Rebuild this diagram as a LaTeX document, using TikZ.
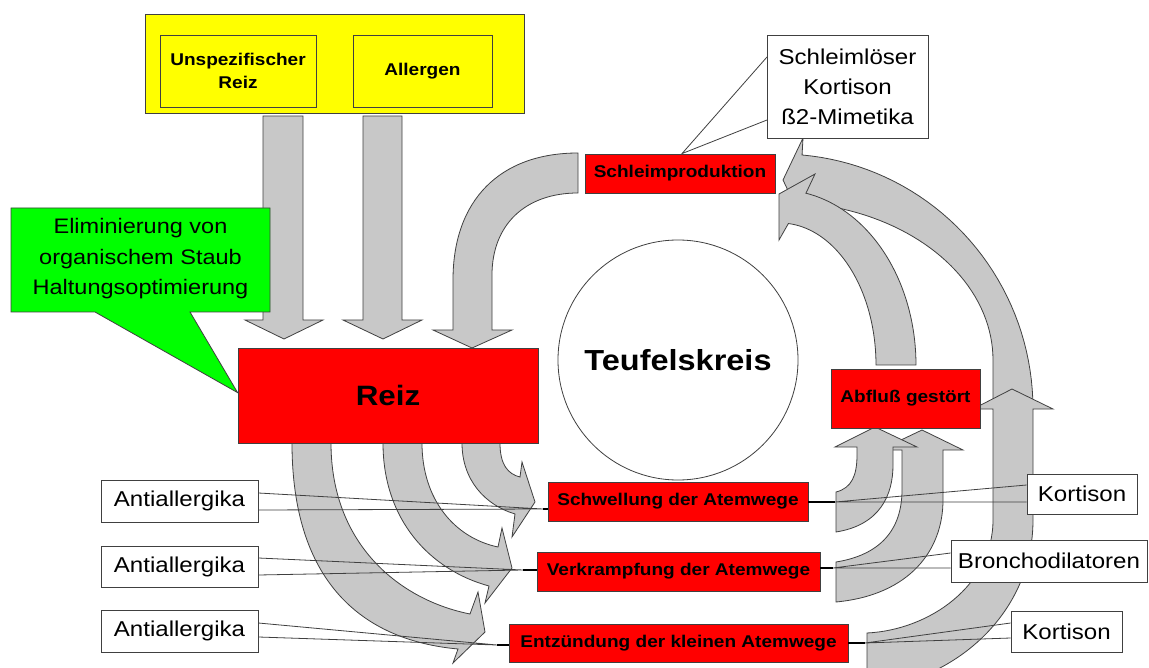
\documentclass[tikz,border=0pt]{standalone}
\usepackage{fontspec}
\setmainfont{Liberation Sans}[FakeStretch=1.12]
\usetikzlibrary{calc}
\definecolor{rred}{RGB}{255,0,0}
\definecolor{yel}{RGB}{255,255,0}
\definecolor{ggreen}{RGB}{0,255,0}
\definecolor{agray}{RGB}{200,200,200}
\definecolor{bline}{RGB}{64,64,64}
\begin{document}
\begin{tikzpicture}[x=1pt,y=-1pt,
  garrow/.style={fill=agray, draw=bline, line width=0.8pt, line join=miter},
  box/.style={draw=bline, line width=0.8pt, inner sep=0pt, align=center},
  redbox/.style={box, fill=rred, font=\fontsize{17}{20}\selectfont\bfseries},
  wbox/.style={box, fill=white, font=\fontsize{21.5}{30}\selectfont},
  ybox/.style={box, fill=yel, font=\fontsize{17}{23}\selectfont\bfseries},
  cline/.style={draw=bline, line width=0.8pt},
  stub/.style={draw=black, line width=1.5pt}
]
\useasboundingbox (0,0) rectangle (1149,668);
\fill[white] (0,0) rectangle (1149,668);
\clip (0,0) rectangle (1149,668);

% central circle
\node[circle, draw=bline, line width=0.8pt, fill=white, minimum size=240pt, inner sep=0pt,
      font=\fontsize{29}{32}\selectfont\bfseries] (kreis) at (678,360) {Teufelskreis};

% straight arrows from the stimuli
\path[garrow] (263,116) -- (303,116) -- (303,320) -- (323,320) -- (284,339) -- (245,320) -- (263,320) -- cycle;
\path[garrow] (363,116) -- (402,116) -- (402,320) -- (422,320) -- (383,339) -- (343,320) -- (363,320) -- cycle;

% curved arrow Schleimproduktion -> Reiz
\path[garrow] (578,153) .. controls (500,153) and (453,200) .. (453,280) -- (453,330) -- (433,330) -- (472,348)
  -- (512,330) -- (492,330) -- (492,275) .. controls (492,225) and (525,193) .. (578,193) -- cycle;

% curved arrows Reiz -> three reactions
\path[garrow] (292,443) -- (331,443) .. controls (331,545) and (400,600) .. (470,614) -- (478,592) -- (485,632)
  -- (453,663) -- (458,649) .. controls (360,640) and (292,580) .. (292,443) -- cycle;
\path[garrow] (383,443) -- (422,443) .. controls (422,500) and (455,538) .. (498,547) -- (502,528) -- (512,568)
  -- (485,603) -- (489,586) .. controls (430,570) and (383,520) .. (383,443) -- cycle;
\path[garrow] (462,443) -- (500,443) .. controls (500,465) and (508,474) .. (520,477) -- (522,462) -- (535,502)
  -- (512,537) -- (515,514) .. controls (485,505) and (462,480) .. (462,443) -- cycle;

% big outer arc -> Schleimproduktion
\path[garrow] (993,409) -- (1033,409)
  -- plot[domain=0:85, samples=40, variable=\t] ({780+253*cos(\t)},{409-255*sin(\t)})
  -- (803,138) -- (783,180) -- (803,222)
  -- plot[domain=83.8:0, samples=40, variable=\t] ({780+213*cos(\t)},{360-158*sin(\t)})
  -- cycle;

% Entzuendung -> up arrow
\path[garrow] (867,690) -- (867,633) .. controls (930,630) and (993,585) .. (993,520) -- (993,409) -- (973,409)
  -- (1012,389) -- (1053,409) -- (1033,409) -- (1033,520) .. controls (1033,610) and (960,680) .. (867,690) -- cycle;

% inner arc Abfluss -> Schleimproduktion
\path[garrow] (876,365) -- (916,365)
  -- plot[domain=0:79, samples=40, variable=\t] ({780+136*cos(\t)},{365-175*sin(\t)})
  -- (815,174) -- (779,194) -- (779,240)
  -- plot[domain=85:0, samples=40, variable=\t] ({780+96*cos(\t)},{365-142*sin(\t)})
  -- cycle;

% Verkrampfung -> Abfluss
\path[garrow] (836,562) .. controls (880,555) and (902,530) .. (902,490) -- (902,450) -- (880,450) -- (922,430)
  -- (963,450) -- (943,450) -- (943,500) .. controls (943,550) and (910,595) .. (836,602) -- cycle;
% Schwellung -> Abfluss
\path[garrow] (836,492) .. controls (852,488) and (857,475) .. (857,455) -- (857,447) -- (835,447) -- (875,427)
  -- (917,447) -- (893,447) -- (893,465) .. controls (893,495) and (880,525) .. (836,532) -- cycle;

% stimuli
\node[box, fill=yel, minimum width=379pt, minimum height=99pt] (stimuli) at (334.5,63.5) {};
\node[ybox, minimum width=156pt, minimum height=72pt] (unsp) at (238,71) {Unspezifischer\\Reiz};
\node[ybox, minimum width=139pt, minimum height=72pt] (allergen) at (422.5,71) {Allergen};

% Reiz
\node[box, fill=rred, minimum width=300pt, minimum height=95pt,
      font=\fontsize{28}{30}\selectfont\bfseries] (reiz) at (388,395.5) {Reiz};

% green callout
\path[draw=bline, fill=ggreen, line width=0.8pt] (11,208) -- (270,208) -- (270,312) -- (190,312)
  -- ($(reiz.north west)!0.47!(reiz.south west)$) -- (95,312) -- (11,312) -- cycle;
\node[align=center, font=\fontsize{21}{30.5}\selectfont] (green) at (140.5,259) {Eliminierung von\\organischem Staub\\Haltungsoptimierung};

% Schleimproduktion and its callout
\node[redbox, minimum width=190pt, minimum height=39pt] (schleim) at (680,173.5) {Schleimproduktion};
\coordinate (stip) at ([xshift=2pt]schleim.north);
\fill[white] (767,57) -- (stip) -- (767,120) -- cycle;
\draw[cline] (767,57) -- (stip) -- (767,120);
\node[wbox, minimum width=161pt, minimum height=103pt] (mittel) at (847.5,86.5) {Schleimlöser\\Kortison\\ß2-Mimetika};

% reactions
\node[redbox, minimum width=149pt, minimum height=59pt] (abfluss) at (905.5,398.5) {Abfluß gestört};
\node[redbox, minimum width=260pt, minimum height=39pt] (schwellung) at (678,501.5) {Schwellung der Atemwege};
\node[redbox, minimum width=283pt, minimum height=39pt] (verkrampfung) at (678.5,571.5) {Verkrampfung der Atemwege};
\node[redbox, minimum width=339pt, minimum height=38pt] (entz) at (678.5,643) {Entzündung der kleinen Atemwege};

% medication boxes
\node[wbox, minimum width=157pt, minimum height=42pt] (anti1) at (179.5,501) {Antiallergika};
\node[wbox, minimum width=157pt, minimum height=41pt] (anti2) at (179.5,566.5) {Antiallergika};
\node[wbox, minimum width=157pt, minimum height=42pt] (anti3) at (179.5,631) {Antiallergika};
\node[wbox, minimum width=110pt, minimum height=40pt] (kort1) at (1082,494) {Kortison};
\node[wbox, minimum width=196pt, minimum height=42pt] (bronch) at (1049,561) {Bronchodilatoren};
\node[wbox, minimum width=111pt, minimum height=41pt] (kort2) at (1066.5,631.5) {Kortison};

% callout lines
\coordinate (p1) at (543,509);
\coordinate (p2) at (523,570);
\coordinate (p3) at (497,645);
\coordinate (q1) at (835,502);
\coordinate (q2) at (833,568);
\coordinate (q3) at (865,643);
\draw[cline] ([yshift=8pt]anti1.east) -- (p1) -- ([yshift=-9pt]anti1.east);
\draw[stub] (p1) -- (p1 -| schwellung.west);
\draw[cline] ([yshift=8.5pt]anti2.east) -- (p2) -- ([yshift=-8.5pt]anti2.east);
\draw[stub] (p2) -- (p2 -| verkrampfung.west);
\draw[cline] ([yshift=8pt]anti3.east) -- (p3) -- ([yshift=-6pt]anti3.east);
\draw[stub] (p3) -- (p3 -| entz.west);
\draw[cline] ([yshift=9pt]kort1.west) -- (q1) -- ([yshift=-8pt]kort1.west);
\draw[stub] (q1) -- (q1 -| schwellung.east);
\draw[cline] ([yshift=8pt]bronch.west) -- (q2) -- ([yshift=-7pt]bronch.west);
\draw[stub] (q2) -- (q2 -| verkrampfung.east);
\draw[cline] ([yshift=8.5pt]kort2.west) -- (q3) -- ([yshift=-6.5pt]kort2.west);
\draw[stub] (q3) -- (q3 -| entz.east);
\end{tikzpicture}
\end{document}
